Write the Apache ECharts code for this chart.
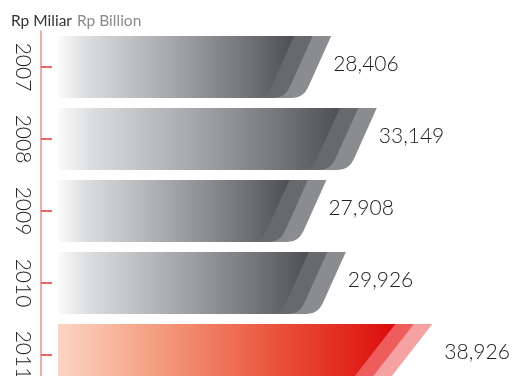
<!DOCTYPE html>
<html>
<head>
<meta charset="utf-8">
<script src="https://cdn.jsdelivr.net/npm/echarts@6/dist/echarts.min.js"></script>
<style>
  html, body { margin: 0; padding: 0; background: #fff; }
  #chart { width: 518px; height: 376px; }
</style>
</head>
<body>
<div id="chart"></div>
<script>
// Yearly figures, Rp billion
const years = ['2007', '2008', '2009', '2010', '2011'];
const values = [28406, 33149, 27908, 29926, 38926];
const highlighted = [false, false, false, false, true];

const palettes = {
  grey: {
    body: [
      { offset: 0, color: '#fbfbfb' },
      { offset: 0.12, color: '#dcdddf' },
      { offset: 0.5, color: '#a3a4a7' },
      { offset: 0.8, color: '#727377' },
      { offset: 1, color: '#4e4f53' }
    ],
    mid: '#68696d',
    outer: '#8b8c8f',
    slope: 0.45,
    labelGap: 2
  },
  red: {
    body: [
      { offset: 0, color: '#fcd5c3' },
      { offset: 0.3, color: '#f49c7e' },
      { offset: 0.65, color: '#e9523a' },
      { offset: 1, color: '#dc0b0b' }
    ],
    mid: '#ee5c5c',
    outer: '#f6a2a2',
    slope: 0.78,
    labelGap: 12
  }
};

// Bar outline with a slanted right end and a rounded bottom-right corner
function barPath(x0, top, bottom, xr, slope, r) {
  const h = bottom - top;
  const xc = xr - slope * h;
  return 'M' + x0 + ',' + top +
    'L' + xr + ',' + top +
    'L' + (xc + slope * r) + ',' + (bottom - r) +
    'Q' + xc + ',' + bottom + ' ' + (xc - r) + ',' + bottom +
    'L' + x0 + ',' + bottom + 'Z';
}

function renderItem(params, api) {
  const idx = api.value(0);
  const v = api.value(1);
  const start = api.coord([0, idx]);
  const end = api.coord([v, idx]);
  const band = api.size([0, 1])[1];
  const h = band * 0.86;
  const top = start[1] - h / 2;
  const bottom = top + h;
  const x0 = start[0];
  const xv = end[0];
  const step = 18.5;
  const pal = highlighted[idx] ? palettes.red : palettes.grey;
  const r = 11;

  return {
    type: 'group',
    children: [
      {
        type: 'path',
        shape: { pathData: barPath(x0, top, bottom, xv, pal.slope, r) },
        style: { fill: pal.outer }
      },
      {
        type: 'path',
        shape: { pathData: barPath(x0, top, bottom, xv - step, pal.slope, r) },
        style: { fill: pal.mid }
      },
      {
        type: 'path',
        shape: { pathData: barPath(x0, top, bottom, xv - 2 * step, pal.slope, r) },
        style: { fill: new echarts.graphic.LinearGradient(0, 0, 1, 0, pal.body) }
      },
      {
        type: 'text',
        x: xv + pal.labelGap,
        y: (top + bottom) / 2 - 3,
        style: {
          text: v.toLocaleString('en-US'),
          fill: '#222',
          font: '300 21px Lato, "Noto Sans", sans-serif',
          align: 'left',
          verticalAlign: 'middle'
        }
      }
    ]
  };
}

const chart = echarts.init(document.getElementById('chart'), null, { renderer: 'canvas' });

chart.setOption({
  animation: false,
  title: {
    text: '{a|Rp Miliar} {b|Rp Billion}',
    left: 6,
    top: 7,
    textStyle: {
      rich: {
        a: { fontSize: 15.5, fontWeight: 'normal', color: '#333', fontFamily: 'Lato, "Noto Sans", sans-serif' },
        b: { fontSize: 15.5, fontWeight: 'normal', color: '#8a8a8a', fontFamily: 'Lato, "Noto Sans", sans-serif' }
      }
    }
  },
  grid: { left: 58, right: 8, top: 31, height: 360, outerBoundsMode: 'none' },
  xAxis: { type: 'value', min: 0, max: 47000, show: false },
  yAxis: {
    type: 'category',
    data: years,
    inverse: true,
    offset: 17,
    axisLine: { show: true, onZero: false, lineStyle: { color: '#f58c8c', width: 1.5 } },
    axisTick: {
      show: true,
      alignWithLabel: true,
      inside: true,
      length: 11,
      lineStyle: { color: '#e8353a', width: 1.5 }
    },
    axisLabel: {
      rotate: -90,
      margin: 8,
      fontSize: 21,
      fontWeight: 300,
      color: '#222',
      fontFamily: 'Lato, "Noto Sans", sans-serif'
    },
    splitLine: { show: false }
  },
  series: [{
    type: 'custom',
    renderItem: renderItem,
    encode: { x: 1, y: 0 },
    data: values.map((v, i) => [i, v]),
    clip: false
  }]
});
</script>
</body>
</html>
